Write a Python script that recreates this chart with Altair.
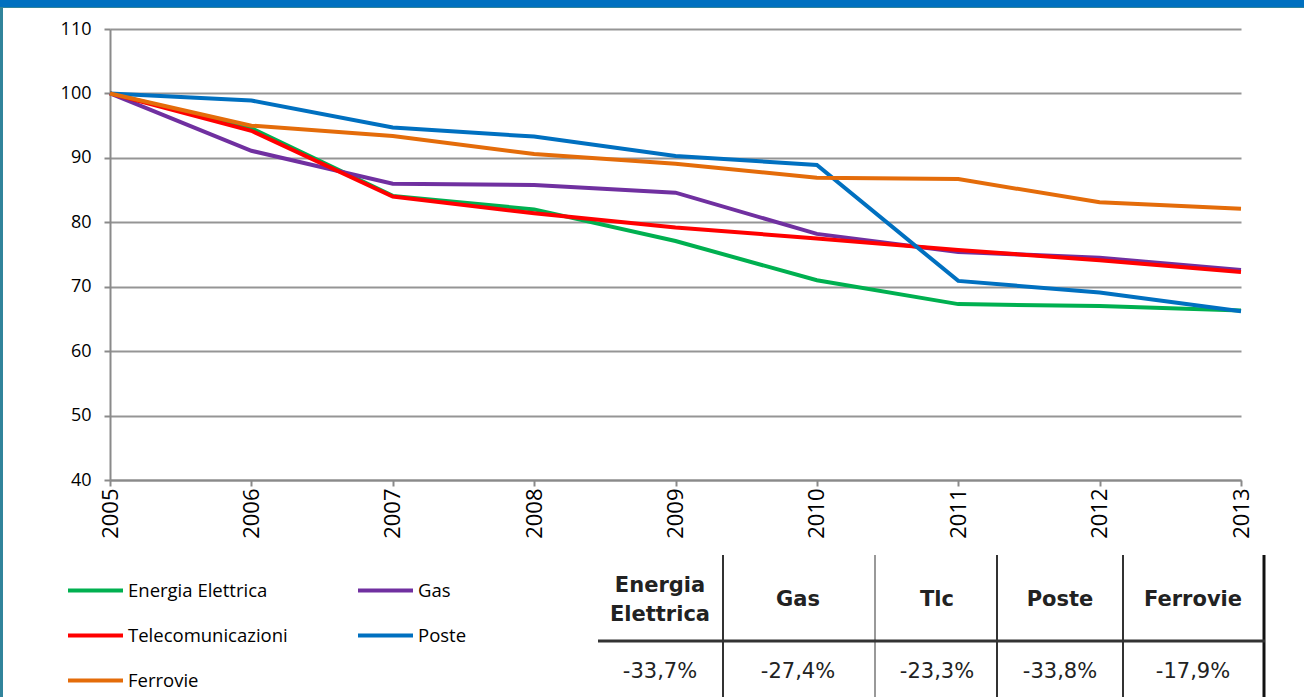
import altair as alt
import pandas as pd

# Index values (2005 = 100) per sector
years = [2005, 2006, 2007, 2008, 2009, 2010, 2011, 2012, 2013]
series_names = ["Energia Elettrica", "Gas", "Telecomunicazioni", "Poste", "Ferrovie"]
energia = [100, 94.6, 84.1, 82.0, 77.1, 71.0, 67.3, 67.0, 66.3]
gas = [100, 91.1, 86.0, 85.8, 84.6, 78.2, 75.4, 74.5, 72.6]
telecom = [100, 94.2, 84.0, 81.4, 79.2, 77.5, 75.7, 74.1, 72.3]
poste = [100, 98.9, 94.7, 93.3, 90.3, 88.9, 70.9, 69.1, 66.2]
ferrovie = [100, 95.0, 93.4, 90.6, 89.1, 86.9, 86.7, 83.1, 82.1]
series_colors = ["#00B050", "#7030A0", "#FF0000", "#0070C0", "#E46C0A"]
y_ticks = [40, 50, 60, 70, 80, 90, 100, 110]

# Summary table: change 2005-2013
table_headers = ["Energia\nElettrica", "Gas", "Tlc", "Poste", "Ferrovie"]
table_changes = ["-33,7%", "-27,4%", "-23,3%", "-33,8%", "-17,9%"]

rows = []
for name, vals in zip(series_names, [energia, gas, telecom, poste, ferrovie]):
    for yr, v in zip(years, vals):
        rows.append({"anno": yr, "indice": v, "settore": name})
df = pd.DataFrame(rows)

W, H = 1131, 451
PAD_L, PAD_T, PAD_R, PAD_B = 110, 29, 63, 217
AXIS_GRAY = "#8a8a8a"
one = pd.DataFrame({"k": [0]})

lines = alt.Chart(df).mark_line(strokeWidth=4).encode(
    x=alt.X("anno:Q",
            scale=alt.Scale(domain=[2005, 2013], nice=False, zero=False),
            axis=alt.Axis(values=years, format="d", title=None, grid=False,
                          labelAngle=270, labelAlign="right", labelBaseline="middle",
                          labelPadding=2, labelFont="Open Sans", labelFontSize=22,
                          labelColor="#000000", tickSize=6, tickWidth=2,
                          tickColor=AXIS_GRAY, domainColor=AXIS_GRAY, domainWidth=2)),
    y=alt.Y("indice:Q",
            scale=alt.Scale(domain=[40, 110], nice=False, zero=False),
            axis=alt.Axis(values=y_ticks, title=None, labelFont="Open Sans",
                          labelFontSize=18, labelColor="#000000", labelPadding=13,
                          tickSize=6, tickWidth=2, tickColor=AXIS_GRAY,
                          domainColor=AXIS_GRAY, domainWidth=2,
                          gridColor="#959595", gridWidth=2)),
    color=alt.Color("settore:N",
                    scale=alt.Scale(domain=series_names, range=series_colors),
                    legend=alt.Legend(title=None, orient="none", legendX=-44, legendY=532,
                                      direction="horizontal", columns=2,
                                      symbolType="stroke", symbolSize=3025,
                                      symbolStrokeWidth=4, labelFont="Open Sans",
                                      labelFontSize=18.5, labelColor="#000000",
                                      labelOffset=3, labelLimit=400,
                                      columnPadding=62, rowPadding=6)),
)

layers = []

# frame: blue band on top, teal border on the left
layers.append(alt.Chart(one).mark_rect(color="#0070C0").encode(
    x=alt.value(-PAD_L), x2=alt.value(W + PAD_R), y=alt.value(-PAD_T), y2=alt.value(-PAD_T + 7)))
layers.append(alt.Chart(one).mark_rect(color="#31849B").encode(
    x=alt.value(-PAD_L), x2=alt.value(W + PAD_R), y=alt.value(-PAD_T + 7), y2=alt.value(-PAD_T + 8)))
layers.append(alt.Chart(one).mark_rect(color="#31849B").encode(
    x=alt.value(-PAD_L), x2=alt.value(-PAD_L + 3), y=alt.value(-PAD_T + 7), y2=alt.value(H + PAD_B)))

layers.append(lines)

# summary table
col_centers = [660, 798, 937, 1060, 1193]
header_mid, value_y, line_h = 600, 672, 29
for cx, head, chg in zip(col_centers, table_headers, table_changes):
    n_lines = head.count("\n") + 1
    first_line_y = header_mid - (n_lines - 1) * line_h / 2
    layers.append(alt.Chart(pd.DataFrame({"t": [head]})).mark_text(
        font="DejaVu Sans", fontWeight="bold", fontSize=21, lineBreak="\n", lineHeight=line_h,
        align="center", baseline="middle", color="#222222").encode(
        x=alt.value(cx - PAD_L), y=alt.value(first_line_y - PAD_T), text="t:N"))
    layers.append(alt.Chart(pd.DataFrame({"t": [chg]})).mark_text(
        font="DejaVu Sans", fontSize=21, align="center", baseline="middle",
        color="#222222").encode(
        x=alt.value(cx - PAD_L), y=alt.value(value_y - PAD_T), text="t:N"))

# table rules
v_rules = [(723, 2, "#333333"), (875, 1.2, "#555555"), (997, 2, "#333333"),
           (1123, 2, "#333333"), (1264, 3, "#111111")]
for xr, sw, col in v_rules:
    layers.append(alt.Chart(one).mark_rule(color=col, strokeWidth=sw).encode(
        x=alt.value(xr - PAD_L), y=alt.value(555 - PAD_T), y2=alt.value(H + PAD_B)))
layers.append(alt.Chart(one).mark_rule(color="#333333", strokeWidth=3).encode(
    x=alt.value(598 - PAD_L), x2=alt.value(1265 - PAD_L), y=alt.value(641 - PAD_T)))

chart = alt.layer(*layers).properties(
    width=W, height=H,
    padding={"left": PAD_L, "top": PAD_T, "right": PAD_R, "bottom": PAD_B},
    autosize=alt.AutoSizeParams(type="none"),
    background="white",
).configure_view(stroke=None)

chart.save("out.html", embed_options={"renderer": "svg", "actions": False})
